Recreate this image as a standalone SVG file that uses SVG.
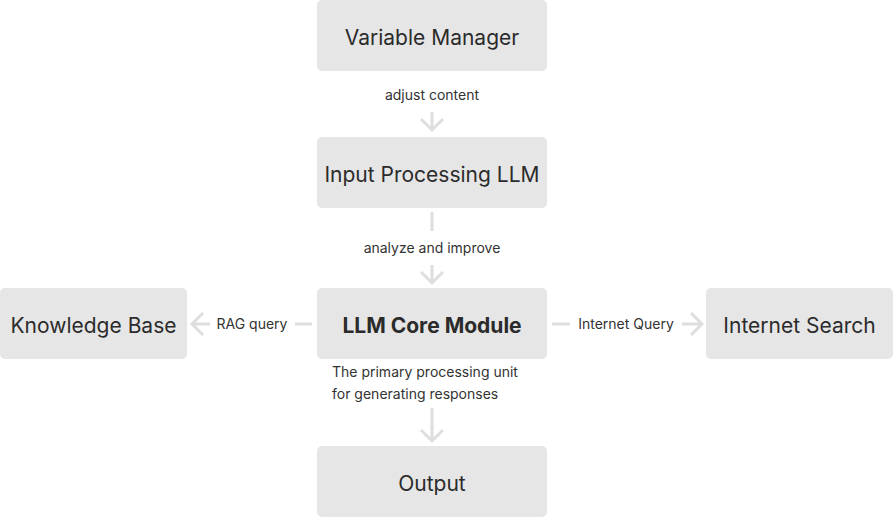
<svg xmlns="http://www.w3.org/2000/svg" width="893" height="518" viewBox="0 0 893 518">
<style>
.box{fill:#e6e6e6}
.t{font-family:Inter,"Liberation Sans",sans-serif;font-size:21px;fill:#2b2b2b;text-anchor:middle}
.b{font-weight:bold}
.l{font-family:Inter,"Liberation Sans",sans-serif;font-size:14px;fill:#333;text-anchor:middle}
.c{fill:none;stroke:#dedede;stroke-width:3}
</style>
<rect width="893" height="518" fill="#fff"/>
<g id="connectors">
<path class="c" d="M432 112V130M421 119L432 130L443 119"/>
<path class="c" d="M432 212V231"/>
<path class="c" d="M432 265V283M421 272L432 283L443 272"/>
<path class="c" d="M295 324H312"/>
<path class="c" d="M192 324H210M203 313L192 324L203 335"/>
<path class="c" d="M552 324H570"/>
<path class="c" d="M682 324H702M691 313L702 324L691 335"/>
<path class="c" d="M432 408V441M421 430L432 441L443 430"/>
<text class="l" x="432" y="100">adjust content</text>
<text class="l" x="432" y="253">analyze and improve</text>
<text class="l" x="252" y="329">RAG query</text>
<text class="l" x="626" y="329">Internet Query</text>
<text class="l" x="332" y="377" style="text-anchor:start">The primary processing unit</text>
<text class="l" x="332" y="399" style="text-anchor:start">for generating responses</text>
</g>
<g id="variable-manager"><rect class="box" x="317" y="0" width="230" height="71" rx="5"/><text class="t" x="432" y="45">Variable Manager</text></g>
<g id="input-processing"><rect class="box" x="317" y="137" width="230" height="71" rx="5"/><text class="t" x="432" y="182">Input Processing LLM</text></g>
<g id="llm-core"><rect class="box" x="317" y="288" width="230" height="71" rx="5"/><text class="t b" x="432" y="333">LLM Core Module</text></g>
<g id="knowledge-base"><rect class="box" x="0" y="288" width="187" height="71" rx="5"/><text class="t" x="93.5" y="333">Knowledge Base</text></g>
<g id="internet-search"><rect class="box" x="706" y="288" width="187" height="71" rx="5"/><text class="t" x="799.5" y="333">Internet Search</text></g>
<g id="output"><rect class="box" x="317" y="446" width="230" height="71" rx="5"/><text class="t" x="432" y="491">Output</text></g>
</svg>
